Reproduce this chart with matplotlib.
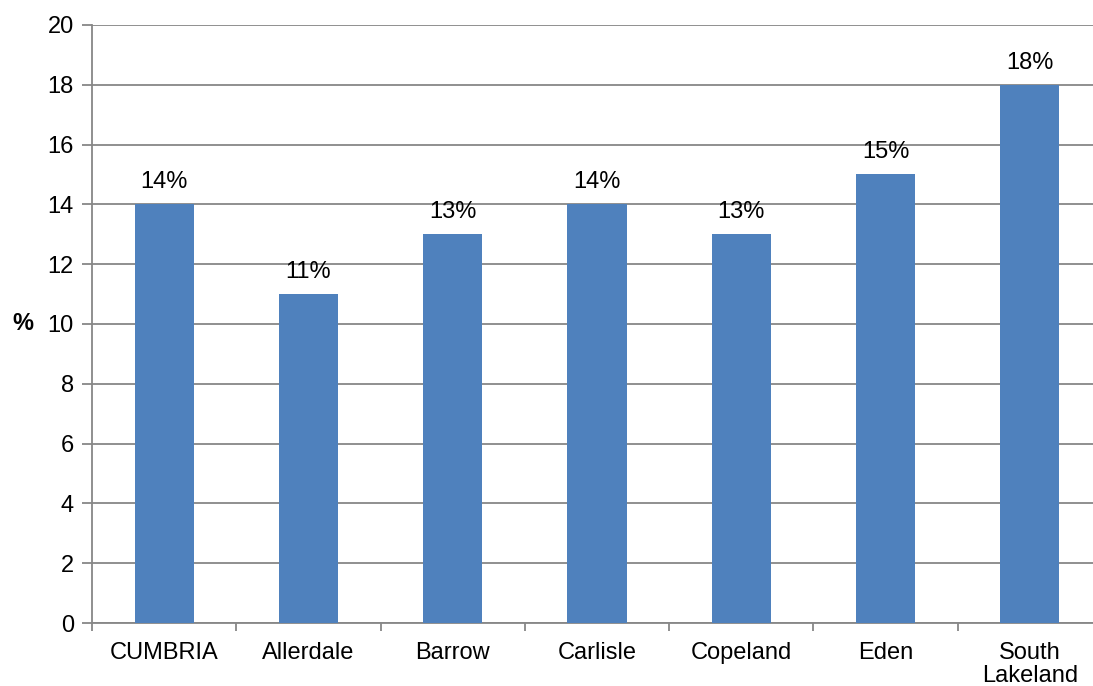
import matplotlib.pyplot as plt
import numpy as np

categories = ['CUMBRIA', 'Allerdale', 'Barrow', 'Carlisle', 'Copeland', 'Eden', 'South\nLakeland']
values = [14, 11, 13, 14, 13, 15, 18]
labels = ['14%', '11%', '13%', '14%', '13%', '15%', '18%']

plt.rcParams['font.family'] = ['Liberation Sans', 'DejaVu Sans']

fig = plt.figure(figsize=(10.93, 6.86), dpi=100)
# plot area runs a little past the right edge of the picture, as in the original
ax = fig.add_axes([0.0842, 0.0918, 0.924, 0.8718])

x = np.arange(len(categories))
bars = ax.bar(x, values, width=0.41, color='#4F81BD', zorder=3)

for xi, v, lab in zip(x, values, labels):
    ax.annotate(lab, (xi, v), xytext=(0, 8), textcoords='offset points',
                ha='center', va='bottom', fontsize=17)

ax.set_xlim(-0.5, len(categories) - 0.5)
ax.set_ylim(0, 20)
ax.set_yticks(range(0, 21, 2))
ax.yaxis.grid(True, color='#878787', linewidth=1.3, zorder=0)
ax.set_axisbelow(True)

# category labels centred, ticks between categories
ax.set_xticks(x)
ax.set_xticklabels(categories, fontsize=17, linespacing=1.05)
ax.tick_params(axis='x', length=0, pad=14)
ax.set_xticks(np.arange(-0.5, len(categories), 1), minor=True)
ax.tick_params(axis='x', which='minor', length=6, width=1.3, color='#878787')
ax.tick_params(axis='y', length=7, width=1.3, color='#878787', labelsize=17, pad=6)

for s in ['top', 'right']:
    ax.spines[s].set_visible(False)
for s in ['left', 'bottom']:
    ax.spines[s].set_color('#878787')
    ax.spines[s].set_linewidth(1.3)

ax.set_ylabel('%', fontsize=17, fontweight='bold', rotation=0, labelpad=18, va='center')

fig.savefig('out.png', dpi=100)
